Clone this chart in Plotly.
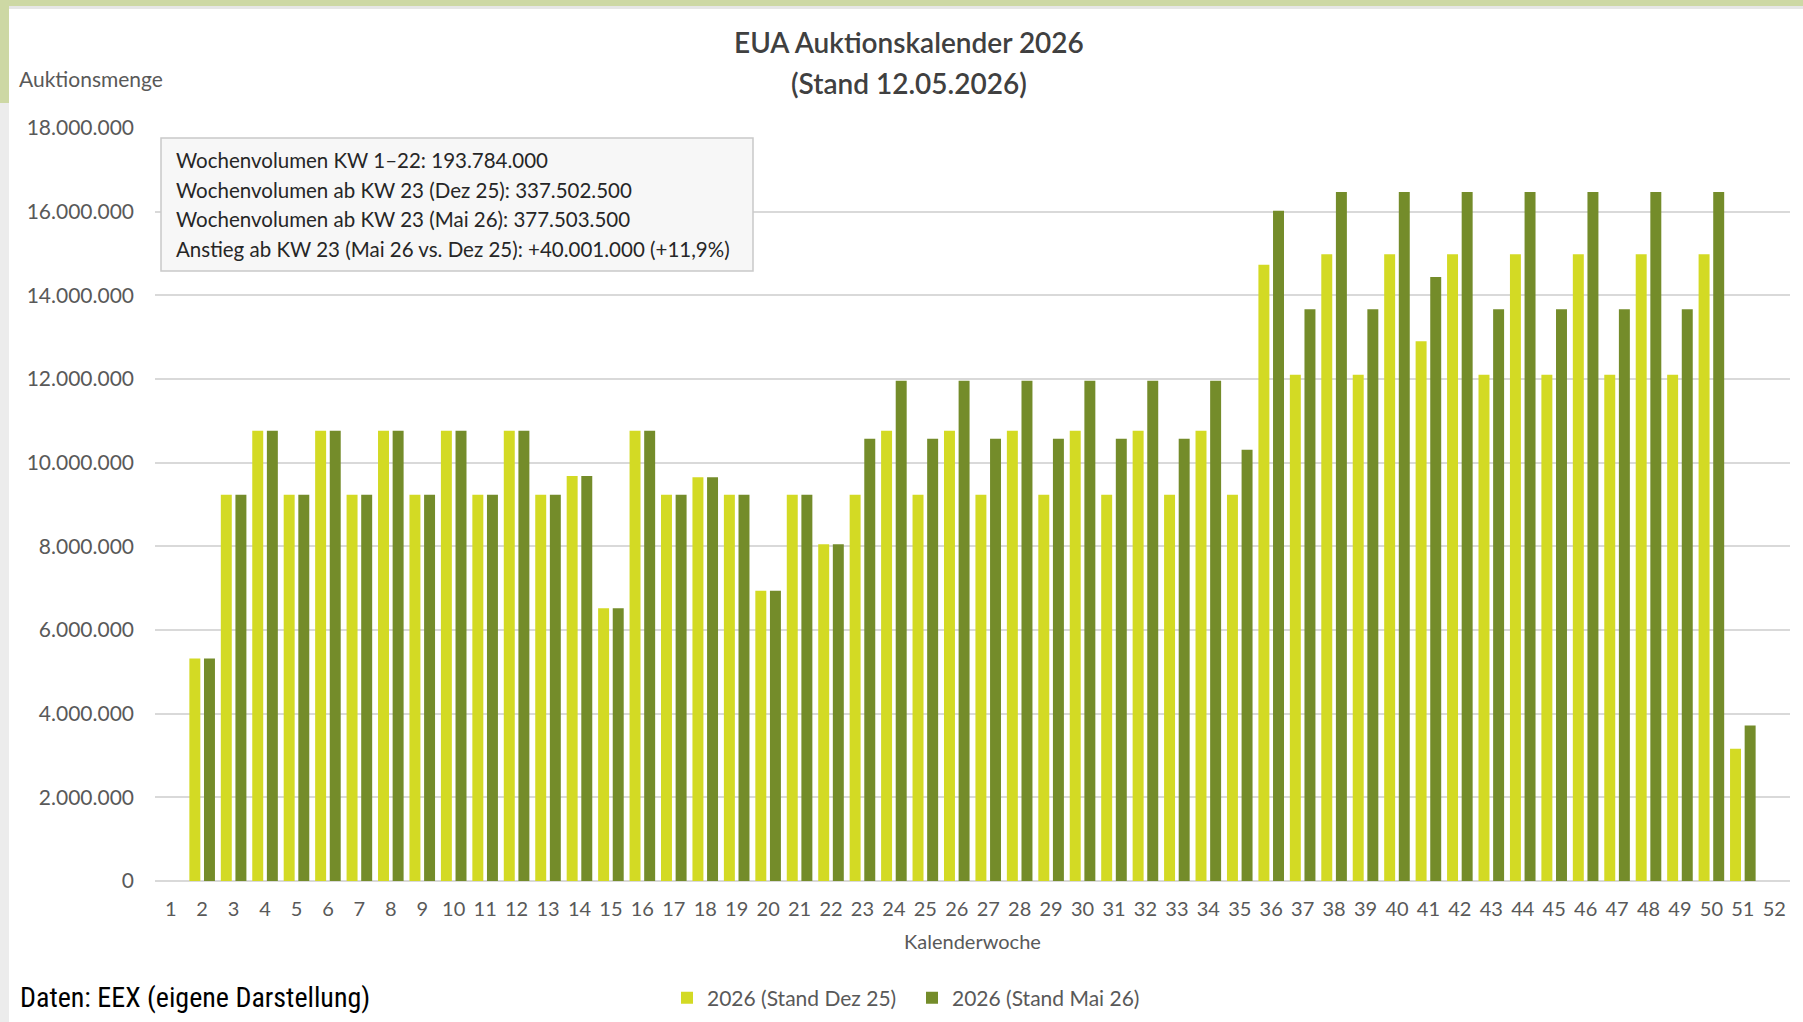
import plotly.graph_objects as go

# ---------------- data ----------------
weeks = [str(i) for i in range(1, 53)]

stand_dez25 = [
    None, 5320000, 9232500, 10765000, 9232500, 10765000, 9232500, 10765000,
    9232500, 10765000, 9232500, 10765000, 9232500, 9680000, 6520000, 10765000,
    9232500, 9650000, 9232500, 6940000, 9232500, 8050000, 9232500, 10765000,
    9232500, 10765000, 9232500, 10765000, 9232500, 10765000, 9232500, 10765000,
    9232500, 10765000, 9232500, 14730000, 12100000, 14980000, 12100000, 14980000,
    12900000, 14980000, 12100000, 14980000, 12100000, 14980000, 12100000, 14980000,
    12100000, 14980000, 3160000, None,
]

stand_mai26 = [
    None, 5320000, 9232500, 10765000, 9232500, 10765000, 9232500, 10765000,
    9232500, 10765000, 9232500, 10765000, 9232500, 9680000, 6520000, 10765000,
    9232500, 9650000, 9232500, 6940000, 9232500, 8050000, 10570000, 11960000,
    10570000, 11960000, 10570000, 11960000, 10570000, 11960000, 10570000, 11960000,
    10570000, 11960000, 10310000, 16020000, 13670000, 16470000, 13670000, 16470000,
    14440000, 16470000, 13670000, 16470000, 13670000, 16470000, 13670000, 16470000,
    13670000, 16470000, 3720000, None,
]

series_names = ["2026 (Stand Dez 25)", "2026 (Stand Mai 26)"]
title_lines = ["EUA Auktionskalender 2026", "(Stand 12.05.2026)"]
info_lines = [
    "Wochenvolumen KW 1\u201322: 193.784.000",
    "Wochenvolumen ab KW 23 (Dez 25): 337.502.500",
    "Wochenvolumen ab KW 23 (Mai 26): 377.503.500",
    "Anstieg ab KW 23 (Mai 26 vs. Dez 25): +40.001.000 (+11,9%)",
]
y_title = "Auktionsmenge"
x_title = "Kalenderwoche"
source_text = "Daten: EEX (eigene Darstellung)"

# ---------------- layout geometry ----------------
W, H = 1803, 1022
ML, MR, MT, MB = 155, 13, 128, 141
PW, PH = W - ML - MR, H - MT - MB


def px(x):
    return (x - ML) / PW


def py(y):
    return (H - MB - y) / PH


LIGHT = "rgb(211,218,36)"
DARK = "rgb(116,140,42)"
FONT = "Lato, 'Open Sans', sans-serif"

fig = go.Figure()
fig.add_trace(go.Bar(x=weeks, y=stand_dez25, name=series_names[0], marker_color=LIGHT,
                     marker_line_width=0))
fig.add_trace(go.Bar(x=weeks, y=stand_mai26, name=series_names[1], marker_color=DARK,
                     marker_line_width=0))

shapes = [
    # top decorative strip
    dict(type="rect", xref="paper", yref="paper", x0=px(0), x1=px(W), y0=py(0), y1=py(6),
         fillcolor="#cdd8a4", line_width=0, layer="below"),
    dict(type="rect", xref="paper", yref="paper", x0=px(9), x1=px(W), y0=py(6), y1=py(9),
         fillcolor="#e6e6e6", line_width=0, layer="below"),
    # left decorative strip
    dict(type="rect", xref="paper", yref="paper", x0=px(0), x1=px(9), y0=py(6), y1=py(103),
         fillcolor="#cdd8a4", line_width=0, layer="below"),
    dict(type="rect", xref="paper", yref="paper", x0=px(0), x1=px(9), y0=py(103), y1=py(H),
         fillcolor="#ececec", line_width=0, layer="below"),
    # info box
    dict(type="rect", xref="paper", yref="paper", x0=px(161), x1=px(753), y0=py(271), y1=py(138),
         fillcolor="#f7f7f7", line=dict(color="#c9c9c9", width=1.5), layer="above"),
]

annotations = [
    dict(text=title_lines[0], x=px(909), y=py(42), xref="paper", yref="paper",
         showarrow=False, xanchor="center", yanchor="middle",
         font=dict(family=FONT, size=28, color="#404040", weight=600)),
    dict(text=title_lines[1], x=px(909), y=py(83), xref="paper", yref="paper",
         showarrow=False, xanchor="center", yanchor="middle",
         font=dict(family=FONT, size=28, color="#404040", weight=600)),
    dict(text=y_title, x=px(17), y=py(78), xref="paper", yref="paper",
         showarrow=False, xanchor="left", yanchor="middle",
         font=dict(family=FONT, size=21, color="#595959")),
    dict(text=source_text, x=px(18), y=py(997), xref="paper", yref="paper",
         showarrow=False, xanchor="left", yanchor="middle",
         font=dict(family="'Liberation Sans Narrow', 'Roboto Condensed', Roboto, sans-serif",
                   size=28, color="#000000")),
]
for line, yy in zip(info_lines, [160, 190, 219, 249]):
    annotations.append(dict(text=line, x=px(174), y=py(yy), xref="paper", yref="paper",
                            showarrow=False, xanchor="left", yanchor="middle",
                            font=dict(family=FONT, size=20.5, color="#262626")))

fig.update_layout(
    width=W, height=H,
    margin=dict(l=ML, r=MR, t=MT, b=MB, pad=0, autoexpand=False),
    paper_bgcolor="white", plot_bgcolor="white",
    separators=",.",
    barmode="group", bargap=0.07, bargroupgap=0.25,
    font=dict(family=FONT, size=20, color="#595959"),
    showlegend=True,
    legend=dict(orientation="h", x=912 / W, y=(H - 998) / H, xref="container", yref="container",
                xanchor="center", yanchor="middle",
                font=dict(family=FONT, size=21, color="#595959"),
                bgcolor="rgba(0,0,0,0)", itemwidth=30, tracegroupgap=0,
                entrywidth=200, entrywidthmode="pixels"),
    xaxis=dict(type="category", showgrid=False, showline=False, ticks="",
               tickfont=dict(family=FONT, size=20, color="#595959"),
               ticklabelstandoff=14,
               title=dict(text=x_title, font=dict(family=FONT, size=20, color="#595959"),
                          standoff=15)),
    yaxis=dict(range=[0, 18000000], tickvals=[0, 2000000, 4000000, 6000000, 8000000, 10000000,
                                               12000000, 14000000, 16000000, 18000000],
               tickformat=",d", showgrid=True, gridcolor="#d9d9d9", gridwidth=1.5,
               zeroline=True, zerolinecolor="#d9d9d9", zerolinewidth=1.5,
               showline=False, ticks="",
               tickfont=dict(family=FONT, size=21, color="#595959"),
               ticklabelstandoff=20),
    shapes=shapes,
    annotations=annotations,
)

fig.write_html("out.html", config={"displayModeBar": False},
               post_script="document.body.style.margin='0';")
